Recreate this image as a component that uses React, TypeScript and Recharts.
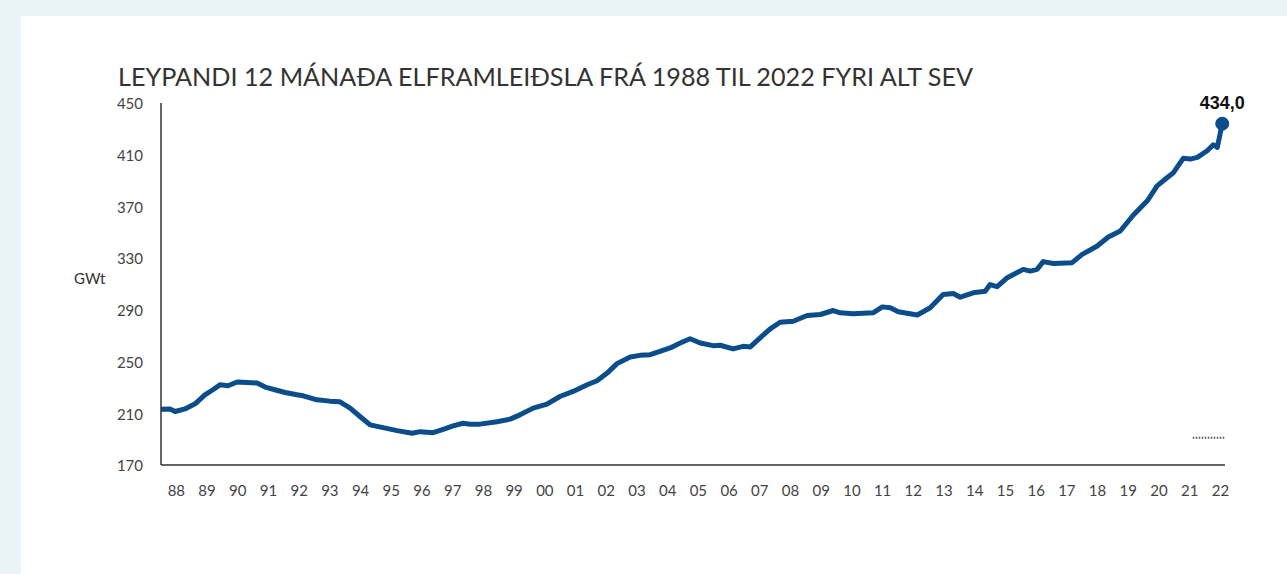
import React from 'react';
import { LineChart, Line, XAxis, YAxis, ReferenceDot, ReferenceLine } from 'recharts';

// Time (decimal years) of each reading
const times: number[] = [
  1988.03, 1988.29, 1988.46, 1988.78, 1989.11, 1989.43, 1989.69, 1989.92,
  1990.18, 1990.48, 1990.8, 1991.13, 1991.39, 1991.71, 1992.04, 1992.43,
  1992.63, 1993.08, 1993.5, 1993.83, 1994.16, 1994.48, 1994.81, 1995.23,
  1995.69, 1996.18, 1996.44, 1996.86, 1997.19, 1997.51, 1997.84, 1998.07,
  1998.39, 1998.94, 1999.37, 1999.69, 2000.12, 2000.57, 2000.99, 2001.42,
  2001.88, 2002.2, 2002.53, 2002.85, 2003.28, 2003.6, 2003.93, 2004.25,
  2004.58, 2004.91, 2005.23, 2005.56, 2005.98, 2006.21, 2006.63, 2006.96,
  2007.19, 2007.51, 2007.84, 2008.16, 2008.59, 2009.04, 2009.47, 2009.89,
  2010.12, 2010.54, 2011.19, 2011.49, 2011.75, 2012.01, 2012.63, 2013.05,
  2013.47, 2013.8, 2014.03, 2014.45, 2014.84, 2015.0, 2015.23, 2015.56,
  2016.08, 2016.31, 2016.53, 2016.73, 2017.06, 2017.67, 2018.0, 2018.49,
  2018.85, 2019.24, 2019.66, 2020.12, 2020.44, 2020.77, 2020.96, 2021.29,
  2021.52, 2021.75, 2022.07, 2022.27, 2022.4, 2022.56,
];

// Rolling 12-month electricity production, GWt
const production: number[] = [
  213.2, 213.4, 211.4, 213.4, 217.3, 224.3, 228.2, 232.0,
  231.3, 234.2, 233.9, 233.4, 230.3, 228.2, 226.1, 224.3,
  223.5, 220.4, 219.4, 218.9, 214.0, 207.5, 201.0, 198.9,
  196.6, 194.6, 195.8, 195.0, 197.6, 200.2, 202.3, 201.6,
  201.6, 203.4, 205.5, 208.8, 214.0, 217.1, 223.0, 226.9,
  232.1, 235.2, 241.1, 248.4, 253.6, 254.8, 255.3, 257.9,
  260.5, 264.4, 267.7, 264.4, 262.3, 262.6, 259.8, 261.8,
  261.3, 268.3, 275.3, 280.4, 281.2, 285.6, 286.4, 289.5,
  287.7, 286.9, 287.7, 292.3, 291.6, 288.5, 286.0, 291.6,
  301.9, 302.7, 299.8, 303.2, 304.4, 309.6, 307.9, 314.9,
  321.3, 320.0, 321.3, 327.3, 325.9, 326.5, 332.9, 339.4,
  346.3, 351.0, 363.2, 374.3, 385.9, 392.4, 395.8, 407.2,
  406.6, 407.9, 413.1, 417.7, 415.7, 434.0,
];

const yTicks: number[] = [170, 210, 250, 290, 330, 370, 410, 450];
const xTickYears: number[] = [
  1988, 1989, 1990, 1991, 1992, 1993, 1994, 1995, 1996, 1997, 1998, 1999,
  2000, 2001, 2002, 2003, 2004, 2005, 2006, 2007, 2008, 2009, 2010, 2011,
  2012, 2013, 2014, 2015, 2016, 2017, 2018, 2019, 2020, 2021, 2022,
];

const title = 'LEYPANDI 12 MÁNAÐA ELFRAMLEIÐSLA FRÁ 1988 TIL 2022 FYRI ALT SEV';
const unitLabel = 'GWt';

const data = times.map((t, i) => ({ t, v: production[i] }));
const xTicks = xTickYears.map((y) => y + 0.5);
const lastIdx = times.length - 1;
const LINE_COLOR = '#0a4d8a';

export default function App() {
  return (
    <div
      style={{
        position: 'absolute',
        left: 0,
        top: 0,
        width: 1287,
        height: 574,
        background: '#eaf3f6',
        overflow: 'hidden',
        fontFamily: 'Lato, sans-serif',
      }}
    >
      <div
        style={{
          position: 'absolute',
          left: 21,
          top: 16,
          width: 1266,
          height: 558,
          background: '#ffffff',
        }}
      />
      <div
        style={{
          position: 'absolute',
          left: 118,
          top: 64,
          fontSize: 25.2,
          lineHeight: '25px',
          color: '#333333',
          whiteSpace: 'nowrap',
          fontFamily: 'Lato',
        }}
      >
        {title}
      </div>
      <div
        style={{
          position: 'absolute',
          left: 74,
          top: 269,
          fontSize: 15,
          lineHeight: '18px',
          color: '#333333',
          fontFamily: 'Lato',
        }}
      >
        {unitLabel}
      </div>
      <div style={{ position: 'absolute', left: 0, top: 0 }}>
        <LineChart
          width={1287}
          height={574}
          data={data}
          margin={{ top: 103, right: 62, bottom: 79, left: 101 }}
        >
          <XAxis
            dataKey="t"
            type="number"
            domain={[1988, 2022.65]}
            ticks={xTicks}
            interval={0}
            allowDataOverflow
            tickFormatter={(v: number) => String(Math.floor(v) % 100).padStart(2, '0')}
            tickLine={false}
            tickSize={0}
            tickMargin={20}
            height={30}
            axisLine={{ stroke: '#333333', strokeWidth: 1.5 }}
            tick={{ fill: '#444444', fontSize: 15, fontFamily: 'Lato' }}
          />
          <YAxis
            type="number"
            domain={[170, 450]}
            ticks={yTicks}
            interval={0}
            width={60}
            tickLine={false}
            tickSize={0}
            tickMargin={18}
            axisLine={{ stroke: '#333333', strokeWidth: 1.5 }}
            tick={{ fill: '#444444', fontSize: 15, fontFamily: 'Lato', dy: 1 }}
          />
          <ReferenceLine
            segment={[
              { x: 2021.6, y: 191 },
              { x: 2022.65, y: 191 },
            ]}
            stroke="#555555"
            strokeWidth={2}
            strokeDasharray="1.5 1.5"
          />
          <Line
            type="linear"
            dataKey="v"
            stroke={LINE_COLOR}
            strokeWidth={5}
            dot={false}
            activeDot={false}
            isAnimationActive={false}
            strokeLinejoin="round"
            strokeLinecap="round"
          />
          <ReferenceDot
            x={times[lastIdx]}
            y={production[lastIdx]}
            r={6.5}
            fill={LINE_COLOR}
            stroke={LINE_COLOR}
            strokeWidth={1}
            label={{
              value: production[lastIdx].toFixed(1).replace('.', ','),
              position: 'top',
              offset: 8,
              fill: '#111111',
              fontSize: 18,
              fontWeight: 700,
              fontFamily: 'Liberation Sans, Arial, sans-serif',
            }}
          />
        </LineChart>
      </div>
    </div>
  );
}
